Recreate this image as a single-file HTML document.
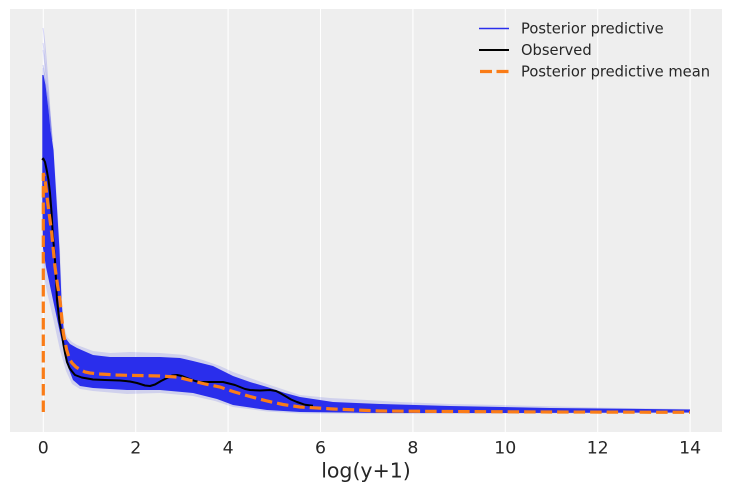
<!DOCTYPE html>
<html>
<head>
<meta charset="utf-8">
<style>
  html, body { margin:0; padding:0; background:#ffffff; }
  svg { display:block; }
  text { font-family: "DejaVu Sans", "Liberation Sans", sans-serif; fill:#262626; }
</style>
</head>
<body>
<svg width="731" height="491" viewBox="0 0 731 491" xmlns="http://www.w3.org/2000/svg">
  <rect x="0" y="0" width="731" height="491" fill="#ffffff"/>
  <!-- axes background -->
  <rect x="10" y="9" width="712" height="423" fill="#eeeeee"/>
  <!-- vertical grid -->
  <g stroke="#ffffff" stroke-width="1.1">
    <line x1="43.3" y1="9" x2="43.3" y2="432"/>
    <line x1="135.7" y1="9" x2="135.7" y2="432"/>
    <line x1="228.1" y1="9" x2="228.1" y2="432"/>
    <line x1="320.5" y1="9" x2="320.5" y2="432"/>
    <line x1="412.9" y1="9" x2="412.9" y2="432"/>
    <line x1="505.3" y1="9" x2="505.3" y2="432"/>
    <line x1="597.7" y1="9" x2="597.7" y2="432"/>
    <line x1="690.1" y1="9" x2="690.1" y2="432"/>
  </g>

  <!-- faint outlier lines near peak -->
  <g fill="none" stroke="#2a2eec" stroke-width="1">
    <path d="M43,28 C45,40 48,80 52,140" stroke-opacity="0.18"/>
    <path d="M43,43 C45,55 48,90 52,140" stroke-opacity="0.18"/>
    <path d="M43,65 C45,75 48,100 51,130" stroke-opacity="0.22"/>
    <path d="M43,50 C46,70 49,110 53,160" stroke-opacity="0.15"/>
  </g>

  <!-- faint fuzzy envelope -->
  <path fill="#2a2eec" fill-opacity="0.15" d="
    M42.5,68 L43.5,68 L46,84 L50,110 L53,140 L57,200 L60,250 L62,300 L64,326 L67,337 L72,342 L77,345
    L93,351 L110,353 L130,352 L160,353 L185,355 L203,360 L220,366 L233,372 L250,378 L267,384 L285,390 L300,395
    L330,398 L350,399 L400,402 L450,404 L500,405 L600,407.5 L690,409
    L690,413 L400,414 L300,413.5 L267,411.5 L233,407 L215,401 L193,396 L160,393 L127,394 L93,391 L80,389 L72,384
    L66,371 L60,350 L53,318 L47,292 L42.5,268 Z"/>

  <!-- dense posterior predictive band -->
  <path fill="#2a2eec" d="
    M42.3,75 L43.5,75 L45.5,85 L48.5,110 L50.5,130 L53.5,150 L56.5,200 L59.5,250 L61.5,300 L63.5,328 L65.5,338 L70,344 L77,348
    L93,355 L110,357 L127,357 L160,357 L180,358 L193,361 L213,366 L233,376 L250,382 L267,387 L285,393 L300,397
    L333,402 L380,404 L450,406 L550,408 L690,409.5
    L690,412.5 L500,413 L380,413 L300,412 L267,410 L233,405 L217,399 L193,393 L160,390 L127,390 L93,388
    L80,386 L73,380 L68,367 L64,350 L60,333 L53,300 L46,267 L43,248 L42.3,200 Z"/>

  <!-- observed -->
  <path fill="none" stroke="#000000" stroke-width="2" stroke-linejoin="round" stroke-linecap="butt" d="
    M42.2,160 L43.3,158.5 L45,162 L46.7,170 L48.5,180 L50,193 L51.5,212 L52.7,233 L55,260 L57,300 L59.5,322
    L61.7,333 L63.5,345 L65,353 L67,362 L69.5,368 L71.7,371 L75,375 L81.7,377.5 L93,379.5 L105,380 L120,380.5
    L130,381.5 L137,383 L145,385.5 L150,386 L155,384.5 L161,381 L167,378 L172,375.5 L177,375 L182,376 L187,378
    L195,381 L200,382 L212,382 L223,382 L235,385 L245,389 L250,390 L260,390.5 L270,390 L276,391 L280,393
    L286,396.5 L291,399.5 L297,402 L305,404.8 L313,405.8"/>

  <!-- posterior predictive mean -->
  <path fill="none" stroke="#fa7c17" stroke-width="3.2" stroke-dasharray="11.5,5" d="
    M43.3,412 L43.3,173 L45,180 L46.5,192 L48,205 L50,220 L51.7,233 L53.5,252 L55,267 L57.5,285 L60,300
    L63.3,333 L66.7,350 L69.5,359 L72,363 L76,367 L80,369.5 L85,372 L90,373 L100,374 L116.7,375 L127,375.3
    L160,376 L177,377 L193,381 L205,384 L220,387 L233,391.5 L250,396.5 L267,401 L283,404.5 L300,407
    L333,409 L380,411 L450,411.5 L550,412 L690,412.3"/>

  <!-- tick labels -->
  <g font-size="17.3" text-anchor="middle">
    <text x="43.3" y="453.5">0</text>
    <text x="135.7" y="453.5">2</text>
    <text x="228.1" y="453.5">4</text>
    <text x="320.5" y="453.5">6</text>
    <text x="412.9" y="453.5">8</text>
    <text x="505.3" y="453.5">10</text>
    <text x="597.7" y="453.5">12</text>
    <text x="690.1" y="453.5">14</text>
  </g>
  <text x="366" y="477.5" font-size="20.5" text-anchor="middle">log(y+1)</text>

  <!-- legend -->
  <line x1="479" y1="28.5" x2="509" y2="28.5" stroke="#2a2eec" stroke-width="1.6"/>
  <line x1="479" y1="50" x2="509" y2="50" stroke="#000000" stroke-width="2"/>
  <line x1="480" y1="71.5" x2="510" y2="71.5" stroke="#fa7c17" stroke-width="3.2" stroke-dasharray="12,4.5"/>
  <g font-size="14.7">
    <text x="521" y="33.5">Posterior predictive</text>
    <text x="521" y="55">Observed</text>
    <text x="521" y="76.5">Posterior predictive mean</text>
  </g>
</svg>
</body>
</html>
